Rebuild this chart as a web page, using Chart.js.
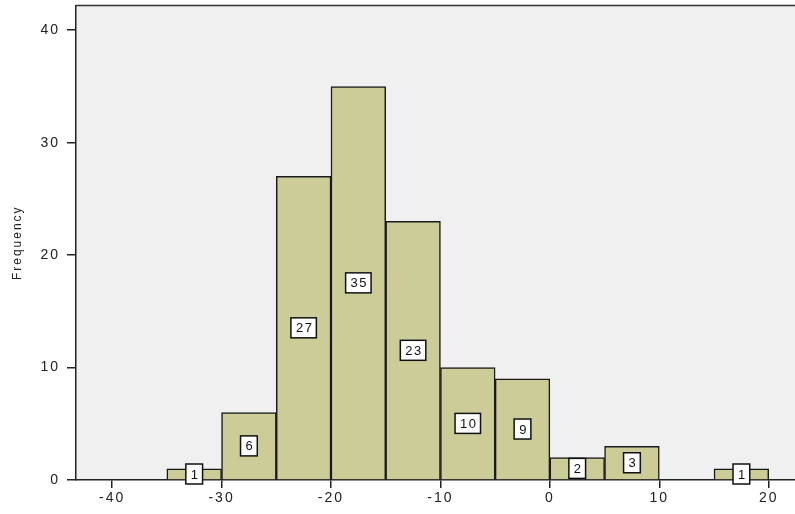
<!DOCTYPE html>
<html>
<head>
<meta charset="utf-8">
<script src="https://cdn.jsdelivr.net/npm/chart.js@4"></script>
<style>
  html, body { margin: 0; padding: 0; background: #fff; }
  #wrap { width: 795px; height: 514px; }
</style>
</head>
<body>
<div id="wrap"><canvas id="histo"></canvas></div>
<script>
const binStarts = [-35, -30, -25, -20, -15, -10, -5, 0, 5, 10, 15];
const binWidth = 5;
const counts = [1, 6, 27, 35, 23, 10, 9, 2, 3, 0, 1];
const xTicks = [-40, -30, -20, -10, 0, 10, 20];
const yTicks = [0, 10, 20, 30, 40];

const points = binStarts.map((s, i) => ({ x: s + binWidth / 2, y: counts[i] }));

// grey plot background + top border, wider letter spacing for the text
const plotBg = {
  id: 'plotBg',
  beforeDraw(chart) {
    const { ctx, chartArea: a } = chart;
    ctx.letterSpacing = '2px';
    ctx.save();
    ctx.fillStyle = '#f0f0f0';
    ctx.fillRect(a.left, a.top, a.right - a.left, a.bottom - a.top);
    ctx.strokeStyle = '#333';
    ctx.lineWidth = 1.5;
    ctx.beginPath();
    ctx.moveTo(a.left, a.top);
    ctx.lineTo(a.right, a.top);
    ctx.stroke();
    ctx.restore();
  }
};

// white boxes with the count in the middle of each bar
const countBoxes = {
  id: 'countBoxes',
  afterDatasetsDraw(chart) {
    const { ctx } = chart;
    const meta = chart.getDatasetMeta(0);
    ctx.save();
    ctx.font = '13px "Liberation Sans", Arial, sans-serif';
    ctx.letterSpacing = '1.5px';
    ctx.textAlign = 'center';
    ctx.textBaseline = 'middle';
    meta.data.forEach((bar, i) => {
      const v = counts[i];
      if (!v) return;
      const txt = String(v);
      const w = ctx.measureText(txt).width + 8;
      const h = 20;
      const cx = bar.x;
      const cy = (bar.y + bar.base) / 2;
      ctx.fillStyle = '#fff';
      ctx.fillRect(cx - w / 2, cy - h / 2, w, h);
      ctx.strokeStyle = '#111';
      ctx.lineWidth = 1.5;
      ctx.strokeRect(cx - w / 2, cy - h / 2, w, h);
      ctx.fillStyle = '#111';
      ctx.fillText(txt, cx + 1, cy + 1);
    });
    ctx.restore();
  }
};

new Chart(document.getElementById('histo'), {
  type: 'bar',
  data: {
    datasets: [{
      data: points,
      backgroundColor: '#cccc99',
      borderColor: '#1a1a1a',
      borderWidth: 1.5,
      barPercentage: 1,
      categoryPercentage: 1
    }]
  },
  options: {
    responsive: true,
    maintainAspectRatio: false,
    animation: false,
    layout: { padding: { top: 5.5, right: 0, left: 0, bottom: 0 } },
    plugins: { legend: { display: false }, tooltip: { enabled: false } },
    scales: {
      x: {
        type: 'linear',
        offset: false,
        min: -43.3,
        max: 22.4,
        afterBuildTicks(scale) { scale.ticks = xTicks.map(v => ({ value: v })); },
        afterFit(scale) { scale.height = 34; scale.paddingLeft = 0; scale.paddingRight = 0; },
        ticks: {
          includeBounds: false,
          color: '#222',
          padding: 2,
          font: { family: '"Liberation Sans", Arial, sans-serif', size: 14 },
          maxRotation: 0
        },
        grid: { display: true, offset: false, drawOnChartArea: false, drawTicks: true, tickLength: 8, color: '#222', lineWidth: 1.5 },
        border: { display: true, color: '#222', width: 1.5 }
      },
      y: {
        min: 0,
        max: 42.2,
        afterBuildTicks(scale) { scale.ticks = yTicks.map(v => ({ value: v })); },
        afterFit(scale) { scale.width = 76; scale.paddingTop = 0; scale.paddingBottom = 0; },
        ticks: {
          includeBounds: false,
          color: '#222',
          padding: 7,
          font: { family: '"Liberation Sans", Arial, sans-serif', size: 14 }
        },
        title: {
          display: true,
          text: 'Frequency',
          color: '#222',
          padding: { top: 10, bottom: 0 },
          font: { family: '"Liberation Sans Narrow", "Liberation Sans", Arial, sans-serif', size: 12 }
        },
        grid: { display: true, drawOnChartArea: false, drawTicks: true, tickLength: 9, color: '#222', lineWidth: 1.5 },
        border: { display: true, color: '#222', width: 1.5 }
      }
    }
  },
  plugins: [plotBg, countBoxes]
});
</script>
</body>
</html>
